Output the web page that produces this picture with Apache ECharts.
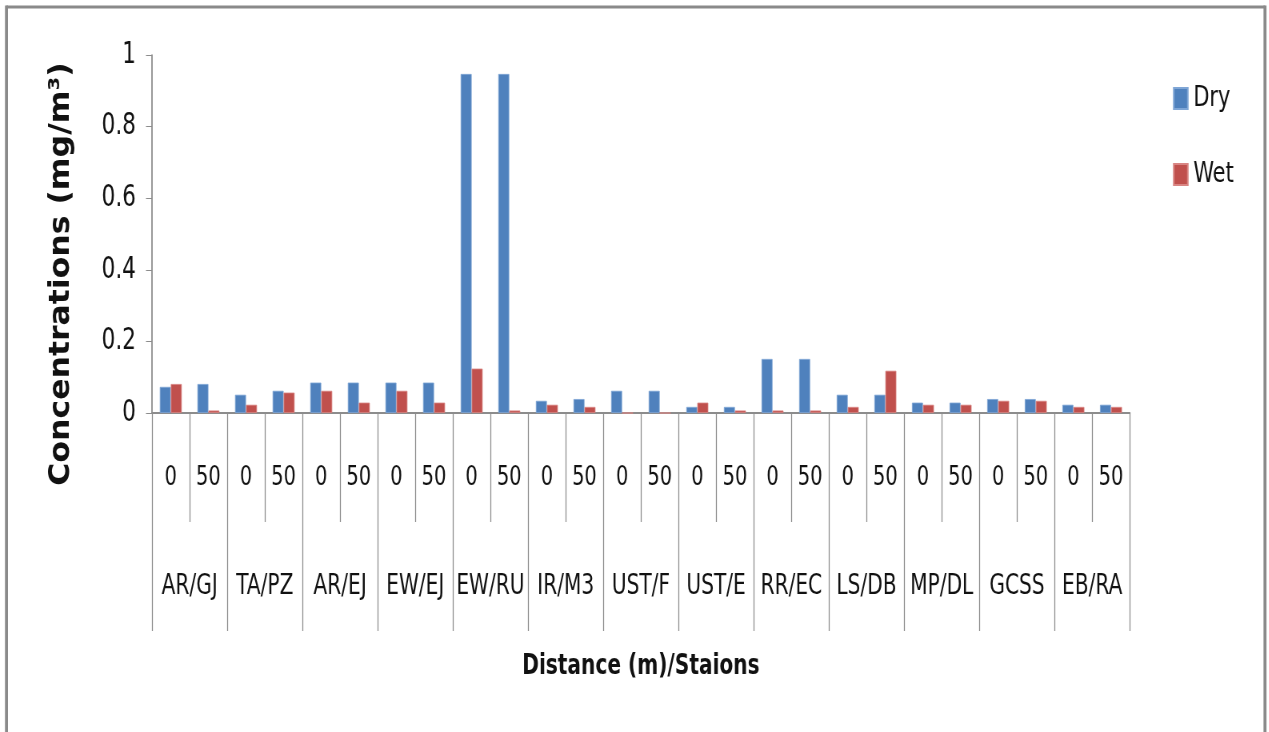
<!DOCTYPE html>
<html>
<head>
<meta charset="utf-8">
<script src="https://cdn.jsdelivr.net/npm/echarts@6/dist/echarts.min.js"></script>
<style>
  html, body { margin: 0; padding: 0; background: #fff; overflow: hidden; }
  /* The chart is laid out on a wider canvas and narrowed to give the condensed lettering */
  #chart { width: 1586px; height: 732px; transform: scaleX(0.8); transform-origin: 0 0; }
</style>
</head>
<body>
<div id="chart"></div>
<script>
// Stations (outer label row) and sampling distances (inner label row)
const stations = ['AR/GJ', 'TA/PZ', 'AR/EJ', 'EW/EJ', 'EW/RU', 'IR/M3', 'UST/F', 'UST/E', 'RR/EC', 'LS/DB', 'MP/DL', 'GCSS', 'EB/RA'];
const distances = ['0', '50'];

// Concentrations (mg/m³), one value per station/distance pair
const dryValues = [0.073, 0.081, 0.051, 0.062, 0.085, 0.085, 0.085, 0.085, 0.947, 0.947,
                   0.034, 0.039, 0.062, 0.062, 0.017, 0.017, 0.151, 0.151, 0.051, 0.051,
                   0.029, 0.029, 0.039, 0.039, 0.023, 0.023];
const wetValues = [0.081, 0.007, 0.023, 0.057, 0.062, 0.029, 0.062, 0.029, 0.124, 0.007,
                   0.023, 0.017, 0, 0, 0.029, 0.007, 0.007, 0.007, 0.017, 0.118,
                   0.023, 0.023, 0.034, 0.034, 0.017, 0.017];

const yTicks = { min: 0, max: 1, interval: 0.2 };

// Inner category labels: each station repeats the distance pair
const innerCats = [];
stations.forEach(() => distances.forEach(d => innerCats.push(d)));

const FONT = "'DejaVu Sans Condensed', 'DejaVu Sans', sans-serif";
const AXIS_GRAY = '#8c8c8c';
const SX = 0.8; // horizontal squeeze applied by CSS

const chart = echarts.init(document.getElementById('chart'), null, { renderer: 'canvas' });

chart.setOption({
  animation: false,
  backgroundColor: '#ffffff',
  textStyle: { fontFamily: FONT },
  grid: { left: 152 / SX, right: 139 / SX, top: 55, bottom: 319, containLabel: false },
  legend: {
    orient: 'vertical',
    left: 1169 / SX,
    top: 79,
    itemGap: 47,
    itemWidth: 14 / SX,
    itemHeight: 21,
    icon: 'rect',
    textStyle: { fontFamily: FONT, fontSize: 29, lineHeight: 21, color: '#111', padding: [0, 0, 0, 2] },
    data: ['Dry', 'Wet']
  },
  xAxis: [
    {
      type: 'category',
      data: innerCats,
      position: 'bottom',
      axisLine: { show: true, lineStyle: { color: AXIS_GRAY, width: 2 } },
      axisTick: { show: true, interval: 0, length: 109, lineStyle: { color: AXIS_GRAY, width: 1.25 } },
      axisLabel: { interval: 0, margin: 51, fontSize: 27, color: '#111', fontFamily: FONT },
      splitLine: { show: false }
    },
    {
      type: 'category',
      data: stations,
      position: 'bottom',
      axisLine: { show: false },
      axisTick: { show: true, interval: 0, length: 218, lineStyle: { color: AXIS_GRAY, width: 1.25 } },
      axisLabel: { interval: 0, margin: 160, fontSize: 28, color: '#111', fontFamily: FONT },
      splitLine: { show: false },
      name: 'Distance (m)/Staions',
      nameLocation: 'middle',
      nameGap: 240,
      nameTextStyle: { fontFamily: FONT, fontSize: 28, fontWeight: 'bold', color: '#111' }
    }
  ],
  yAxis: {
    type: 'value',
    min: yTicks.min,
    max: yTicks.max,
    interval: yTicks.interval,
    axisLine: { show: true, lineStyle: { color: AXIS_GRAY, width: 1.75 } },
    axisTick: { show: true, length: 6 / SX, inside: false, lineStyle: { color: AXIS_GRAY, width: 1 } },
    axisLabel: { margin: 16 / SX, fontSize: 30, color: '#111', fontFamily: FONT },
    splitLine: { show: false },
    name: 'Concentrations (mg/m³)',
    nameLocation: 'middle',
    nameGap: 96,
    nameRotate: 90,
    nameTextStyle: { fontFamily: FONT, fontSize: 35, fontWeight: 'bold', color: '#111', padding: [0, 80, 0, 0] }
  },
  series: [
    {
      name: 'Dry',
      type: 'bar',
      xAxisIndex: 0,
      data: dryValues,
      barWidth: 11 / SX,
      barGap: '0%',
      itemStyle: { color: '#4F81BD', borderColor: '#7fa6d6', borderWidth: 0.8 }
    },
    {
      name: 'Wet',
      type: 'bar',
      xAxisIndex: 0,
      data: wetValues,
      barWidth: 11 / SX,
      barGap: '0%',
      itemStyle: { color: '#C0504D', borderColor: '#d98583', borderWidth: 0.8 }
    }
  ],
  graphic: [
    // page frame: top edge plus the two side edges running off the bottom
    { type: 'line', silent: true, shape: { x1: 6.5 / SX, y1: 7, x2: 1265 / SX, y2: 7 },
      style: { stroke: '#8a8a8a', lineWidth: 3 } },
    { type: 'line', silent: true, shape: { x1: 6.5 / SX, y1: 5.5, x2: 6.5 / SX, y2: 740 },
      style: { stroke: '#8a8a8a', lineWidth: 3 / SX } },
    { type: 'line', silent: true, shape: { x1: 1265 / SX, y1: 5.5, x2: 1265 / SX, y2: 740 },
      style: { stroke: '#8a8a8a', lineWidth: 3 / SX } }
  ]
});
</script>
</body>
</html>
